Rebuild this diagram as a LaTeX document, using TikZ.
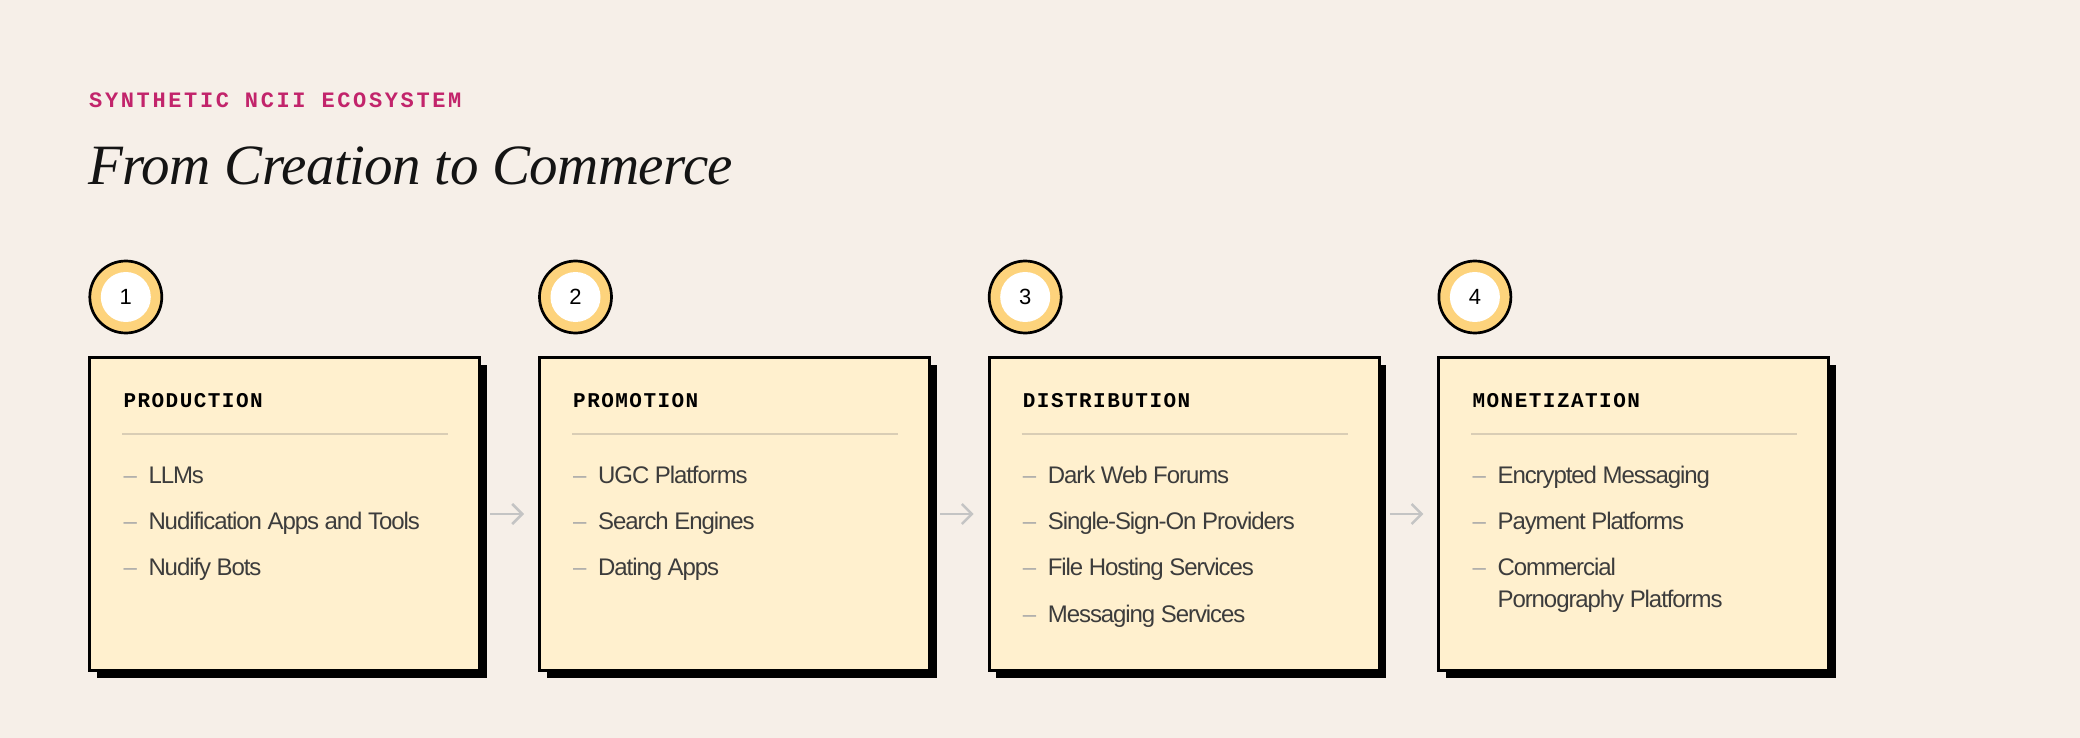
\documentclass[tikz,border=0pt]{standalone}
\usepackage{fontspec}
\setmainfont{Liberation Serif}
\newfontfamily\titlefont[LetterSpace=-1]{Liberation Serif}
\newfontfamily\labelfont[LetterSpace=12]{Liberation Mono}
\newfontfamily\headfont[LetterSpace=7]{Liberation Mono}
\newfontfamily\itemfont[LetterSpace=-4.5]{Liberation Sans}
\newfontfamily\numfont{Liberation Sans}
\usetikzlibrary{positioning,arrows.meta,shadows}

\definecolor{paper}{HTML}{F6EFE8}
\definecolor{kicker}{HTML}{C2246B}
\definecolor{titleink}{HTML}{141414}
\definecolor{boxfill}{HTML}{FFF0CE}
\definecolor{ringyellow}{HTML}{FDD37C}
\definecolor{rulecolor}{HTML}{D9CDB5}
\definecolor{itemgray}{HTML}{3C3C3C}
\definecolor{dashgray}{HTML}{A9A9A9}
\definecolor{arrowgray}{HTML}{C4C4C4}

\newcommand\stagedash{\makebox[25pt][l]{\textcolor{dashgray}{–}}}

\begin{document}
\begin{tikzpicture}[x=1pt, y=-1pt,
    stage/.style={draw=black, line width=3pt, fill=boxfill, minimum width=390pt,
        minimum height=313pt, inner sep=0pt,
        drop shadow={shadow xshift=7pt, shadow yshift=-7pt, fill=black, opacity=1}},
    ring/.style={circle, draw=black, line width=2.7pt, fill=ringyellow,
        minimum size=72pt, inner sep=0pt,
        path picture={\fill[white] (path picture bounding box.center) circle (25pt);},
        font=\numfont\fontsize{22}{22}\selectfont},
    stagehead/.style={anchor=base west, inner sep=0pt,
        font=\headfont\bfseries\fontsize{21}{21}\selectfont},
    item/.style={anchor=base west, inner sep=0pt, text=itemgray,
        font=\itemfont\fontsize{24}{24}\selectfont},
    rule/.style={draw=rulecolor, line width=2pt},
    flow/.style={draw=arrowgray, line width=2.5pt,
        -{Straight Barb[length=10pt, width=20pt]}, shorten <=9pt, shorten >=14pt}]

    \path[use as bounding box, fill=paper] (0,0) rectangle (2080,738);

    % heading
    \node[anchor=base west, inner sep=0pt, text=kicker,
        font=\labelfont\bfseries\fontsize{22}{22}\selectfont]
        (kick) at (89,108) {SYNTHETIC NCII ECOSYSTEM};
    \node[anchor=base west, inner sep=0pt, text=titleink,
        font=\titlefont\itshape\fontsize{57}{57}\selectfont]
        (title) at (88,185) {From Creation to Commerce};

    % stages
    \node[stage] (b1) at (284.8,514) {};
    \node[stage, right=56.7pt of b1] (b2) {};
    \node[stage, right=56.7pt of b2] (b3) {};
    \node[stage, right=56.7pt of b3] (b4) {};

    \node[ring] (r1) at ([shift={(37.5,-59)}]b1.north west) {1};
    \node[ring] (r2) at ([shift={(37.5,-59)}]b2.north west) {2};
    \node[ring] (r3) at ([shift={(37.5,-59)}]b3.north west) {3};
    \node[ring] (r4) at ([shift={(37.5,-59)}]b4.north west) {4};

    \node[stagehead] (h1) at ([shift={(35,51)}]b1.north west) {PRODUCTION};
    \node[stagehead] (h2) at ([shift={(35,51)}]b2.north west) {PROMOTION};
    \node[stagehead] (h3) at ([shift={(35,51)}]b3.north west) {DISTRIBUTION};
    \node[stagehead] (h4) at ([shift={(35,51)}]b4.north west) {MONETIZATION};

    \draw[rule] ([shift={(34,78)}]b1.north west) -- ++(326,0);
    \draw[rule] ([shift={(34,78)}]b2.north west) -- ++(326,0);
    \draw[rule] ([shift={(34,78)}]b3.north west) -- ++(326,0);
    \draw[rule] ([shift={(34,78)}]b4.north west) -- ++(326,0);

    \foreach \t [count=\k from 0] in {LLMs, Nudification Apps and Tools, Nudify Bots}
        \node[item] (prod\k) at ([shift={(35,127+46.4*\k)}]b1.north west) {\stagedash\t};
    \foreach \t [count=\k from 0] in {UGC Platforms, Search Engines, Dating Apps}
        \node[item] (promo\k) at ([shift={(35,127+46.4*\k)}]b2.north west) {\stagedash\t};
    \foreach \t [count=\k from 0] in {Dark Web Forums, Single-Sign-On Providers,
            File Hosting Services, Messaging Services}
        \node[item] (dist\k) at ([shift={(35,127+46.4*\k)}]b3.north west) {\stagedash\t};
    \foreach \t [count=\k from 0] in {Encrypted Messaging, Payment Platforms, Commercial}
        \node[item] (mon\k) at ([shift={(35,127+46.4*\k)}]b4.north west) {\stagedash\t};
    \node[item] (mon3) at ([shift={(35,251.8)}]b4.north west) {\hspace*{25pt}Pornography Platforms};

    % flow
    \draw[flow] (b1) -- (b2);
    \draw[flow] (b2) -- (b3);
    \draw[flow] (b3) -- (b4);
\end{tikzpicture}
\end{document}
